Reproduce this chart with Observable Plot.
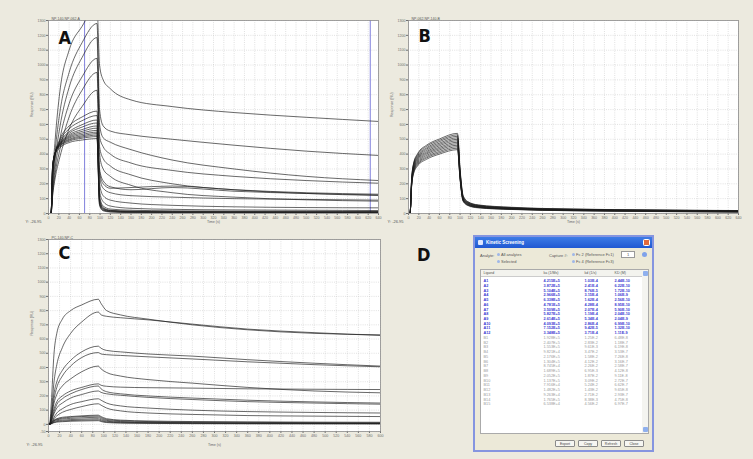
<!DOCTYPE html>
<html><head><meta charset="utf-8">
<script src="https://cdn.jsdelivr.net/npm/d3@7"></script>
<script src="https://cdn.jsdelivr.net/npm/@observablehq/plot@0.6"></script>
<style>
html,body{margin:0;padding:0;background:#eceadf;}
#fig{position:relative;width:753px;height:459px;background:#eceadf;overflow:hidden;font-family:"Liberation Sans",Arial,sans-serif;}
.panel{position:absolute;}
.letter{position:absolute;font-family:"Liberation Sans Narrow","DejaVu Sans Condensed",sans-serif;font-weight:bold;font-size:18px;color:#111;line-height:1;}
#dlg{position:absolute;left:473px;top:235px;width:181px;height:217px;background:#ece9d8;border:2px solid #8595e0;box-sizing:border-box;font-size:4px;color:#555;}
#dlg .tb{position:absolute;left:0;top:0;right:0;height:11px;background:linear-gradient(#3d7ce6,#2058d2);color:#fff;font-weight:bold;font-size:4.5px;line-height:11px;padding-left:11px;}
#dlg .ico{position:absolute;left:3px;top:3px;width:5px;height:5px;background:#dfe8ff;border-radius:1px;}
#dlg .cls{position:absolute;right:2px;top:2px;width:7px;height:7px;background:#e26a3c;border:0.5px solid #fff;border-radius:1.5px;box-sizing:border-box;}
#dlg .t{position:absolute;white-space:nowrap;}
#dlg .rad{display:inline-block;width:3px;height:3px;border-radius:50%;background:#9fb7e8;margin-right:1px;vertical-align:middle;}
#tbl{position:absolute;left:5px;top:32px;width:169px;height:165px;background:#fff;border:0.5px solid #aaa;box-sizing:border-box;}
#tblhead{position:absolute;left:0;top:0;width:163px;height:6px;background:#f3f3ee;border-bottom:0.5px solid #ccc;}
#scroll{position:absolute;right:0;top:0;width:6px;height:100%;background:#f4f4f0;}
#scroll .a{position:absolute;left:0.5px;width:5px;height:5px;background:#8fb0ee;border-radius:1px;}
.btn{position:absolute;top:203px;width:20px;height:7px;background:#f6f6f2;border:0.5px solid #8a8a8a;border-radius:1px;box-sizing:border-box;font-size:3.5px;text-align:center;line-height:6px;color:#444;}
</style></head><body><div id="fig"></div>
<script>
// ---------- Panel A ----------
const tA = [0, 5, 8, 13, 22, 40, 65, 94, 99, 106, 120, 160, 240, 360, 500, 640];
const seriesA = [
  [0,0,250,500,820,1100,1260,1400, 1000,900,840,765,720,680,648,620],
  [0,0,200,420,680,950,1150,1280, 700,590,555,530,500,460,420,391],
  [0,0,170,360,580,850,1050,1185, 600,510,480,430,360,300,250,222],
  [0,0,150,310,500,740,920,1045, 520,450,400,340,290,250,222,204],
  [0,0,130,270,430,650,830,950, 450,370,320,260,200,160,135,121],
  [0,0,120,240,380,570,720,830, 400,300,250,190,140,110,92,83],
  [0,0,250,400,500,590,650,690, 300,220,180,160,175,150,135,125],
  [0,0,260,400,490,570,625,660, 280,200,170,175,185,160,140,130],
  [0,0,270,400,480,550,598,630, 250,170,140,120,110,100,95,90],
  [0,0,280,405,475,540,582,610, 200,120,90,70,55,45,40,38],
  [0,0,290,410,470,530,565,590, 150,80,50,35,28,24,22,20],
  [0,0,300,410,468,522,553,575, 120,50,30,22,18,16,15,14],
  [0,0,305,410,465,515,542,560, 100,40,22,16,14,13,12,12],
  [0,0,310,410,462,508,532,548, 90,35,20,14,12,11,10,10],
  [0,0,315,410,458,500,523,538, 80,30,18,12,10,9,8,8],
  [0,0,320,410,455,494,515,528, 70,26,15,10,8,7,7,6],
  [0,0,320,405,450,487,507,518, 60,22,12,8,6,5,5,5],
  [0,0,320,400,442,478,495,505, 55,18,10,6,5,4,4,3]
];
const cursorsA = [70, 624];

// ---------- Panel B ----------
const tB = [0, 3, 6, 10, 18, 35, 60, 95, 100, 106, 115, 135, 200, 320, 480, 640];
const seriesB = [
  [0,0,230,340,405,460,502,540, 300,120,80,58,42,30,24,20],
  [0,0,225,335,398,452,493,530, 290,115,78,56,40,29,23,19],
  [0,0,220,330,390,442,484,520, 280,110,75,54,38,28,22,18],
  [0,0,215,322,382,434,474,510, 275,105,72,52,36,26,21,17],
  [0,0,210,315,375,425,465,500, 270,100,70,50,35,25,20,16],
  [0,0,205,308,368,416,456,490, 260,98,68,48,34,24,19,15],
  [0,0,200,300,360,408,446,480, 255,95,65,46,32,23,18,14],
  [0,0,196,295,352,400,437,470, 250,92,63,45,31,22,17,13],
  [0,0,192,288,345,391,428,460, 245,90,60,43,30,21,16,12],
  [0,0,188,282,338,382,418,450, 240,88,58,42,29,20,15,11],
  [0,0,184,276,330,374,409,440, 235,85,56,40,28,19,14,10],
  [0,0,180,270,322,365,400,430, 230,82,54,38,27,18,13,9]
];

// ---------- Panel C ----------
const tC = [0, 2, 5, 10, 15, 25, 40, 60, 90, 95, 105, 130, 180, 260, 360, 480, 600];
const seriesC = [
  [0,0,150,500,640,740,800,840,880, 850,800,770,740,700,665,640,630],
  [0,0,80,300,420,540,640,720,790, 770,760,750,735,705,670,645,625],
  [0,0,60,220,300,380,450,510,550, 535,520,510,495,480,455,430,410],
  [0,0,50,180,260,340,410,470,505, 495,490,485,475,460,440,420,405],
  [0,0,40,150,210,270,320,370,410, 390,365,340,315,290,260,235,222],
  [0,0,30,110,160,200,235,260,285, 275,268,262,258,255,250,247,245],
  [0,0,25,90,140,180,215,245,270, 250,230,215,200,185,170,158,150],
  [0,0,20,75,115,150,185,210,235, 225,215,205,190,175,160,150,142],
  [0,0,15,50,80,110,140,160,180, 170,150,130,115,100,90,84,80],
  [0,0,12,40,60,85,105,125,145, 135,115,95,80,70,62,58,55],
  [0,0,10,30,40,50,55,60,65, 55,40,30,24,20,18,16,15],
  [0,0,10,28,36,44,50,55,58, 48,34,26,20,16,14,12,11],
  [0,0,8,25,32,38,42,46,50, 40,28,20,15,12,10,9,8],
  [0,0,6,20,26,30,34,37,40, 32,22,16,12,10,8,7,6],
  [0,0,5,15,20,24,27,30,32, 25,17,12,9,7,6,5,5],
  [0,0,4,12,16,19,22,24,26, 20,13,9,7,5,4,4,3]
];

// ---------- Tick labels ----------
const xTicksAB = [0,20,40,60,80,100,120,140,160,180,200,220,240,260,280,300,320,340,360,380,400,420,440,460,480,500,520,540,560,580,600,620,640];
const yTicksAB = [0,100,200,300,400,500,600,700,800,900,1000,1100,1200,1300];
const xTicksC = [0,20,40,60,80,100,120,140,160,180,200,220,240,260,280,300,320,340,360,380,400,420,440,460,480,500,520,540,560,580,600];
const yTicksC = [-50,0,100,200,300,400,500,600,700,800,900,1000,1100,1200,1300];

// ---------- Panel D table ----------
const tableHeaders = ["Ligand", "ka (1/Ms)", "kd (1/s)", "KD (M)"];
const ligands = ["A1","A2","A3","A4","A5","A6","A7","A8","A9","A10","A11","A12",
  "B1","B2","B3","B4","B5","B6","B7","B8","B9","B10","B11","B12","B13","B14","B15"];
const kaVals = ["4.215E+5","3.872E+5","5.104E+5","2.966E+5","6.338E+5","4.781E+5","3.509E+5","5.827E+5","2.614E+5","4.093E+5","7.152E+5","3.348E+5",
  "1.928E+5","2.407E+5","1.553E+5","9.821E+4","2.176E+5","1.304E+5","8.745E+4","1.689E+5","2.052E+5","1.137E+5","7.916E+4","1.482E+5","9.263E+4","1.765E+5","6.538E+4"];
const kdVals = ["1.03E-4","2.41E-4","8.76E-5","3.15E-4","1.62E-4","4.28E-4","2.07E-4","1.19E-4","5.34E-4","2.86E-4","9.42E-5","3.71E-4",
  "1.25E-2","2.83E-2","9.61E-3","3.47E-2","1.58E-2","4.12E-2","2.26E-2","6.95E-3","1.87E-2","3.09E-2","5.24E-2","1.43E-2","2.71E-2","8.38E-3","4.56E-2"];
const KDVals = ["2.44E-10","6.22E-10","1.72E-10","1.06E-9","2.56E-10","8.95E-10","5.90E-10","2.04E-10","2.04E-9","6.99E-10","1.32E-10","1.11E-9",
  "6.48E-8","1.18E-7","6.19E-8","3.53E-7","7.26E-8","3.16E-7","2.58E-7","4.12E-8","9.11E-8","2.72E-7","6.62E-7","9.65E-8","2.93E-7","4.75E-8","6.97E-7"];
const selectedCount = 12;

const fig = document.getElementById("fig");
const FONT = "Liberation Sans, Arial, sans-serif";

function sensor(cfg) {
  const rows = [];
  cfg.series.forEach((vals, k) => vals.forEach((v, i) => rows.push({curve: k, t: cfg.times[i], v})));
  const fmt = d => String(d);
  const marks = [
    Plot.frame({fill: "white", stroke: null}),
    Plot.gridX({ticks: cfg.xTicks, stroke: "#b4b4b4", strokeOpacity: 1, strokeWidth: 0.4, strokeDasharray: "1,1.2"}),
    Plot.gridY({ticks: cfg.yTicks, stroke: "#b4b4b4", strokeOpacity: 1, strokeWidth: 0.4, strokeDasharray: "1,1.2"}),
    Plot.axisX({ticks: cfg.xTicks, tickSize: 2, tickPadding: 1, tickFormat: fmt, label: null, fontSize: 3.6}),
    Plot.axisY({ticks: cfg.yTicks, tickSize: 2, tickPadding: 1, tickFormat: fmt, label: null, fontSize: 3.6}),
  ];
  if (cfg.cursors) marks.push(Plot.ruleX(cfg.cursors, {stroke: "#8080dc", strokeWidth: 1}));
  marks.push(
    Plot.line(rows, {x: "t", y: "v", z: "curve", curve: "monotone-x", stroke: "#1c1c1c", strokeWidth: 0.75, strokeOpacity: 0.88, clip: true}),
    Plot.frame({stroke: "#8c8c8c", strokeWidth: 0.8}),
    Plot.text([cfg.letter], {frameAnchor: "top-left", dx: 10, dy: cfg.letterDy, textAnchor: "start", lineAnchor: "top", fontSize: 18, fontWeight: "bold", fontFamily: "Liberation Sans Narrow, DejaVu Sans Condensed, sans-serif", fill: "#111"}),
    Plot.text([cfg.tab], {frameAnchor: "top-left", dx: 3, dy: -3, textAnchor: "start", fontSize: 3.5, fill: "#555"}),
    Plot.text(["Time (s)"], {frameAnchor: "bottom", dy: cfg.timeDy, fontSize: 3.6, fill: "#666"}),
    Plot.text(["Response (RU)"], {frameAnchor: "left", dx: -17, rotate: -90, fontSize: 3.6, fill: "#666"}),
    Plot.text(["Y: -26.95"], {frameAnchor: "bottom-left", dx: cfg.yDx, dy: cfg.timeDy, textAnchor: "start", fontSize: 4, fill: "#555"})
  );
  const svg = Plot.plot({
    width: cfg.width, height: cfg.height,
    marginLeft: cfg.mL, marginRight: cfg.mR, marginTop: cfg.mT, marginBottom: cfg.mB,
    style: {background: "transparent", fontFamily: FONT, fontSize: "4px", color: "#6e6e6e", overflow: "visible"},
    x: {domain: [0, cfg.xMax]},
    y: {domain: cfg.yDomain},
    marks
  });
  const d = document.createElement("div");
  d.className = "panel";
  d.style.left = cfg.left + "px";
  d.style.top = cfg.top + "px";
  d.appendChild(svg);
  fig.appendChild(d);
}

sensor({left: 0, top: 0, width: 388, height: 228, mL: 48, mR: 10, mT: 20, mB: 15,
  times: tA, series: seriesA, xTicks: xTicksAB, yTicks: yTicksAB, xMax: 640, yDomain: [0, 1300],
  letter: "A", letterDy: 11, tab: "NP-140-NP-062-A", cursors: cursorsA, timeDy: 9, yDx: -23});
sensor({left: 385, top: 0, width: 368, height: 228, mL: 23, mR: 15, mT: 20, mB: 15,
  times: tB, series: seriesB, xTicks: xTicksAB, yTicks: yTicksAB, xMax: 640, yDomain: [0, 1300],
  letter: "B", letterDy: 9, tab: "NP-062-NP-140-B", timeDy: 9, yDx: -21});
sensor({left: 0, top: 225, width: 400, height: 234, mL: 48, mR: 20, mT: 14, mB: 28,
  times: tC, series: seriesC, xTicks: xTicksC, yTicks: yTicksC, xMax: 600, yDomain: [-50, 1300],
  letter: "C", letterDy: 7, tab: "PC-140-NP-C", timeDy: 14, yDx: -22});

// ---------- Panel D: dialog ----------
const letterD = document.createElement("div");
letterD.className = "letter";
letterD.style.left = "417px"; letterD.style.top = "246px";
letterD.textContent = "D";
fig.appendChild(letterD);

const dlg = document.createElement("div");
dlg.id = "dlg";
dlg.innerHTML = `
  <div class="tb"><div class="ico"></div>Kinetic Screening<div class="cls"></div></div>
  <div class="t" style="left:5px;top:16px">Analyte:</div>
  <div class="t" style="left:22px;top:15px"><span class="rad"></span>All analytes</div>
  <div class="t" style="left:22px;top:22px"><span class="rad"></span>Selected</div>
  <div class="t" style="left:74px;top:16px">Capture #:</div>
  <div class="t" style="left:97px;top:15px"><span class="rad"></span>Fc 2 (Reference Fc1)</div>
  <div class="t" style="left:97px;top:22px"><span class="rad"></span>Fc 4 (Reference Fc3)</div>
  <div class="t" style="left:146px;top:14px;width:12px;height:5px;background:#fff;border:0.5px solid #999;text-align:center;line-height:5px">1</div>
  <div class="t" style="left:167px;top:15px;width:5px;height:5px;border-radius:50%;background:#7fa2ea"></div>
  <div id="tbl"><div id="tblhead"></div><div id="scroll"><div class="a" style="top:1px"></div><div class="a" style="bottom:1px"></div></div></div>
  <div class="btn" style="left:80px">Export</div>
  <div class="btn" style="left:103px">Copy</div>
  <div class="btn" style="left:126px">Refresh</div>
  <div class="btn" style="left:149px">Close</div>
`;
fig.appendChild(dlg);

const tableRows = ligands.map((id, i) => ({id, ka: kaVals[i], kd: kdVals[i], KD: KDVals[i], selected: i < selectedCount}));
const colKeys = ["id", "ka", "kd", "KD"];
const colDx = [2, 62, 103, 133];
const tMarks = [];
colKeys.forEach((k, j) => {
  tMarks.push(Plot.text([tableHeaders[j]], {frameAnchor: "top-left", dx: colDx[j], dy: 1.2, textAnchor: "start", lineAnchor: "top", fontSize: 3.6, fill: "#555"}));
  tMarks.push(Plot.text(tableRows.filter(d => d.selected), {y: "id", text: k, frameAnchor: "left", dx: colDx[j], textAnchor: "start", fontSize: 3.8, fontWeight: "bold", fill: "#3b3bd2"}));
  tMarks.push(Plot.text(tableRows.filter(d => !d.selected), {y: "id", text: k, frameAnchor: "left", dx: colDx[j], textAnchor: "start", fontSize: 3.8, fill: "#9a9a9a"}));
});
const tsvg = Plot.plot({
  width: 163, height: 164, margin: 0,
  style: {background: "transparent", fontFamily: FONT, fontSize: "4px", overflow: "visible"},
  y: {type: "band", domain: ligands, range: [8, 136], round: false, padding: 0, axis: null},
  marks: tMarks
});
tsvg.style.position = "absolute"; tsvg.style.left = "0px"; tsvg.style.top = "0px";
document.getElementById("tbl").appendChild(tsvg);
</script></body></html>
